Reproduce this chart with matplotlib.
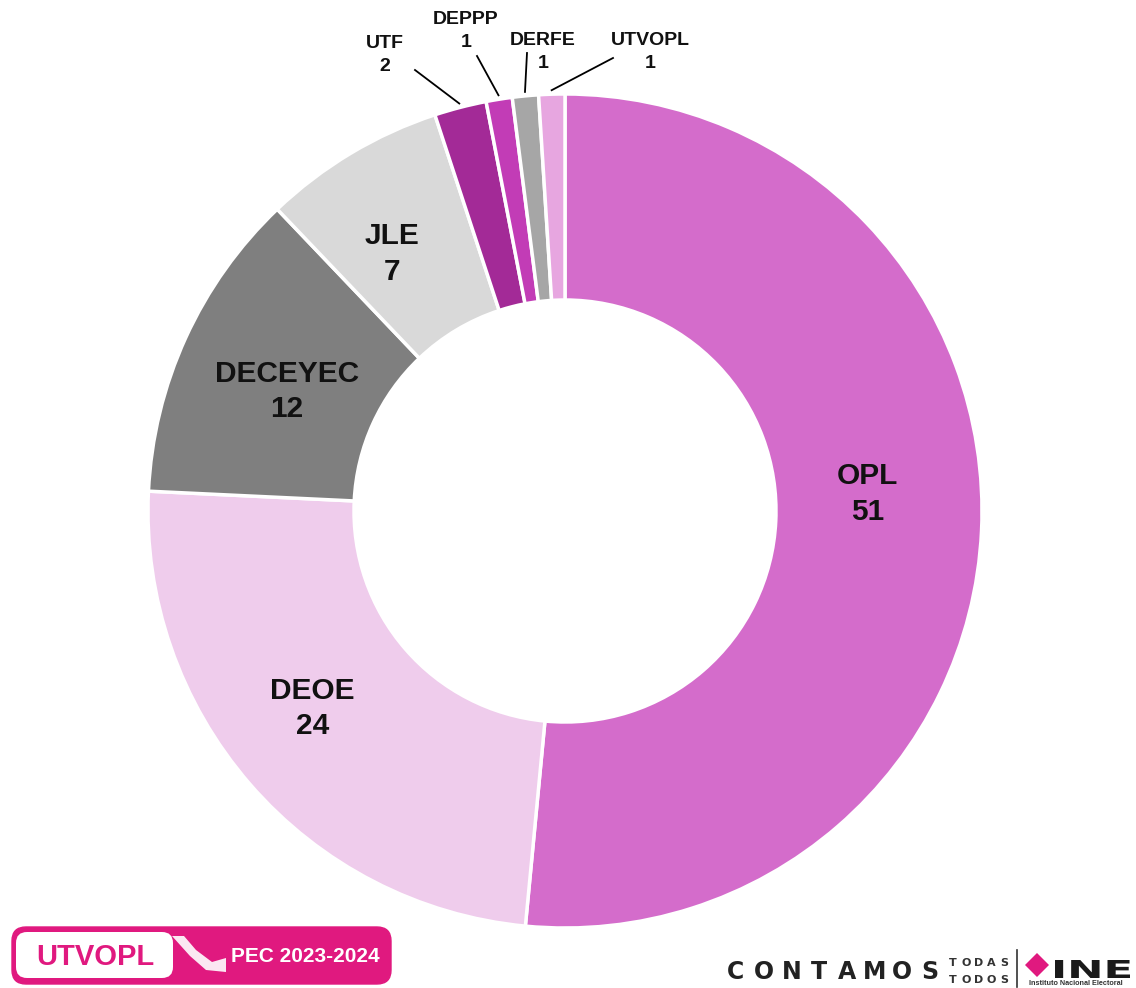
import numpy as np
import matplotlib.pyplot as plt
from matplotlib.patches import FancyBboxPatch, Polygon, PathPatch
from matplotlib.textpath import TextPath
from matplotlib.font_manager import FontProperties
from matplotlib.transforms import Affine2D

plt.rcParams['font.family'] = ['Liberation Sans', 'DejaVu Sans']

areas = ['OPL', 'DEOE', 'DECEYEC', 'JLE', 'UTF', 'DEPPP', 'DERFE', 'UTVOPL']
counts = [51, 24, 12, 7, 2, 1, 1, 1]
colors = ['#D46CCB', '#EFCCEC', '#7F7F7F', '#D9D9D9',
          '#A32A97', '#C23CB6', '#A6A6A6', '#E7A6E0']

W, H = 1136, 988
cx, cy, R = 565, H - 511, 417
hole = 206

fig = plt.figure(figsize=(W / 100, H / 100), dpi=100)
ax = fig.add_axes([0, 0, 1, 1])

wedges, _ = ax.pie(counts, colors=colors, startangle=90, counterclock=False,
                   center=(cx, cy), radius=R,
                   wedgeprops=dict(width=hole, edgecolor='white', linewidth=2.5))
ax.set_xlim(0, W)
ax.set_ylim(0, H)
ax.set_aspect('equal')
ax.axis('off')

# big labels inside the ring (small nudges like Excel's best fit)
big_r = [0.72, 0.76, 0.73, 0.75]
nudge = [(3, 31), (-13, 10), (-1, -7), (-12, -11)]
for i in range(4):
    w = wedges[i]
    ang = np.deg2rad((w.theta1 + w.theta2) / 2)
    x = cx + big_r[i] * R * np.cos(ang) + nudge[i][0]
    y = cy + big_r[i] * R * np.sin(ang) + nudge[i][1]
    ax.text(x, y, f'{areas[i]}\n{counts[i]}', ha='center', va='center',
            fontsize=21.5, fontweight='bold', linespacing=1.35, color='#111111')

# small labels above the ring, with leader lines
small_pos = [(385, 55), (466, 31), (543, 52), (650, 52)]
line_start = [(415, 70), (477, 56), (527, 53), (613, 58)]
for k, i in enumerate(range(4, 8)):
    w = wedges[i]
    ang = np.deg2rad((w.theta1 + w.theta2) / 2)
    ex = cx + (R + 4) * np.cos(ang)
    ey = cy + (R + 4) * np.sin(ang)
    sx, sy = line_start[k]
    ax.plot([sx, ex], [H - sy, ey], color='black', lw=1.3)
    tx, ty = small_pos[k]
    ax.text(tx, H - ty, f'{areas[i]}\n{counts[i]}', ha='center', va='center',
            fontsize=14, fontweight='bold', linespacing=1.5, color='#111111')

# footer: UTVOPL / PEC badge
mag = '#E0197F'
badge = FancyBboxPatch((12, H - 984), 379, 57, boxstyle='round,pad=0,rounding_size=14',
                       fc=mag, ec=mag, lw=1)
ax.add_patch(badge)
inner = FancyBboxPatch((16, H - 978), 157, 46, boxstyle='round,pad=0,rounding_size=11',
                       fc='white', ec='none')
ax.add_patch(inner)
ax.add_patch(Polygon([(172, H - 936), (184, H - 936), (196, H - 950), (212, H - 962),
                      (226, H - 958), (226, H - 972), (206, H - 970), (190, H - 956)],
                     closed=True, fc='white', ec='none', alpha=0.9))
ax.text(95, H - 957, 'UTVOPL', ha='center', va='center', fontsize=21,
        fontweight='bold', color=mag)
ax.text(305, H - 957, 'PEC 2023-2024', ha='center', va='center', fontsize=15,
        fontweight='bold', color='white')

# footer: CONTAMOS TODAS TODOS | INE
for j, ch in enumerate('CONTAMOS'):
    ax.text(736 + j * 27.7, H - 972, ch, ha='center', va='center', fontsize=17,
            fontweight='bold', color='#222222', family='DejaVu Sans')
for j, (a, b) in enumerate(zip('TODAS', 'TODOS')):
    ax.text(953 + j * 12.8, H - 963, a, ha='center', va='center', fontsize=8,
            fontweight='bold', color='#333333', family='DejaVu Sans')
    ax.text(953 + j * 12.8, H - 980, b, ha='center', va='center', fontsize=8,
            fontweight='bold', color='#333333', family='DejaVu Sans')
ax.plot([1017, 1017], [H - 950, H - 987], color='#333333', lw=1.2)
ax.add_patch(Polygon([(1025, H - 965), (1037, H - 953), (1049, H - 965), (1037, H - 977)],
                     closed=True, fc=mag, ec='none'))
ine = TextPath((0, 0), 'INE', size=10, prop=FontProperties(family='DejaVu Sans', weight='bold'))
bb = ine.get_extents()
tr = Affine2D().translate(-bb.x0, -bb.y0).scale(75 / bb.width, 18 / bb.height).translate(1055, H - 978)
ax.add_patch(PathPatch(tr.transform_path(ine), fc='#1a1a1a', ec='none'))
ax.text(1076, H - 983, 'Instituto Nacional Electoral', ha='center', va='center',
        fontsize=5.2, fontweight='bold', color='#333333')

fig.savefig('out.png', dpi=100, facecolor='white')
